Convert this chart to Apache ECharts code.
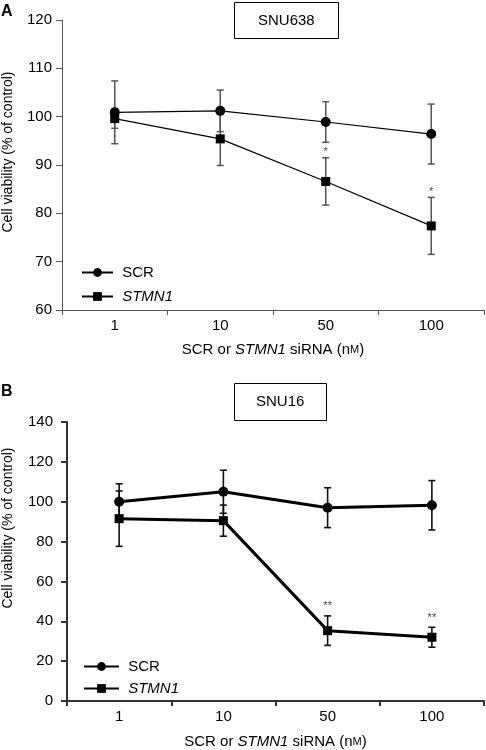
<!DOCTYPE html>
<html>
<head>
<meta charset="utf-8">
<script src="https://cdn.jsdelivr.net/npm/echarts@6/dist/echarts.min.js"></script>
<style>html,body{margin:0;padding:0;background:#fff}#c{width:486px;height:750px}</style>
</head>
<body>
<div id="c"></div>
<script>
// ---- data ----
var categories = ['1', '10', '50', '100'];
var yTicksA = [60, 70, 80, 90, 100, 110, 120];
var yTicksB = [0, 20, 40, 60, 80, 100, 120, 140];
// Panel A (SNU638)
var aSCR = [100.9, 101.2, 98.9, 96.4];
var aSCRerr = [6.5, 4.3, 4.2, 6.2];
var aSTMN1 = [99.6, 95.4, 86.6, 77.4];
var aSTMN1err = [2.0, 5.5, 4.9, 5.9];
var aSig = ['', '', '*', '*'];
// Panel B (SNU16)
var bSCR = [100, 105, 97, 98.2];
var bSCRerr = [9, 10.8, 10, 12.4];
var bSTMN1 = [91.5, 90.5, 35.3, 32];
var bSTMN1err = [13.9, 7.8, 7.4, 5];
var bSig = ['', '', '**', '**'];

var FONT = 'Liberation Sans, Arial, sans-serif';

function errData(vals, errs) {
  return vals.map(function (v, i) { return [i, v - errs[i], v + errs[i]]; });
}
function errSeries(vals, errs, axisIdx, color, width, cap) {
  return {
    type: 'custom', xAxisIndex: axisIdx, yAxisIndex: axisIdx, z: 1,
    data: errData(vals, errs), encode: { x: 0, y: [1, 2] }, silent: true,
    renderItem: function (params, api) {
      var lo = api.coord([api.value(0), api.value(1)]);
      var hi = api.coord([api.value(0), api.value(2)]);
      var x = lo[0];
      var st = { stroke: color, lineWidth: width };
      return { type: 'group', children: [
        { type: 'line', shape: { x1: x, y1: lo[1], x2: x, y2: hi[1] }, style: st },
        { type: 'line', shape: { x1: x - cap, y1: lo[1], x2: x + cap, y2: lo[1] }, style: st },
        { type: 'line', shape: { x1: x - cap, y1: hi[1], x2: x + cap, y2: hi[1] }, style: st }
      ]};
    }
  };
}
function sigSeries(vals, errs, sig, axisIdx, gap) {
  return {
    type: 'custom', xAxisIndex: axisIdx, yAxisIndex: axisIdx, z: 5, silent: true,
    data: vals.map(function (v, i) { return [i, v + errs[i]]; }), encode: { x: 0, y: 1 },
    renderItem: function (params, api) {
      var s = sig[params.dataIndex];
      if (!s) return null;
      var p = api.coord([api.value(0), api.value(1)]);
      return { type: 'text', x: p[0], y: p[1] - gap,
        style: { text: s, fill: '#444', font: '11px ' + FONT, textAlign: 'center', textVerticalAlign: 'bottom' } };
    }
  };
}
function lineSeries(name, vals, axisIdx, symbol, size, width) {
  return {
    type: 'line', name: name, xAxisIndex: axisIdx, yAxisIndex: axisIdx, z: 3,
    data: vals, symbol: symbol, symbolSize: size, showSymbol: true,
    lineStyle: { color: '#000', width: width }, itemStyle: { color: '#000' },
    emphasis: { disabled: true }, animation: false
  };
}

var nameRich = {
  a: { fontFamily: FONT, fontSize: 15, color: '#000' },
  i: { fontFamily: FONT, fontSize: 15, color: '#000', fontStyle: 'italic' },
  s: { fontFamily: FONT, fontSize: 11, color: '#000' }
};
var xName = '{a|SCR or }{i|STMN1}{a| siRNA (n}{s|M}{a|)}';

function xAxisCfg(idx, color, width, gap) {
  return {
    type: 'category', gridIndex: idx, data: categories, boundaryGap: true,
    axisLine: { lineStyle: { color: color, width: width } },
    axisTick: { show: true, interval: 0, length: 5, lineStyle: { color: color, width: width } },
    axisLabel: { interval: 0, margin: 8, fontSize: 15, fontFamily: FONT, color: '#000' },
    name: xName, nameLocation: 'middle', nameGap: gap, nameTextStyle: { rich: nameRich }
  };
}
function yAxisCfg(idx, ticks, interval, color, width, margin) {
  return {
    type: 'value', gridIndex: idx, min: ticks[0], max: ticks[ticks.length - 1], interval: interval,
    axisLine: { show: true, lineStyle: { color: color, width: width } },
    axisTick: { show: true, length: 6, lineStyle: { color: color, width: width } },
    axisLabel: { margin: margin, fontSize: 15, fontFamily: FONT, color: '#000' },
    splitLine: { show: false }
  };
}

function legendFmt(name) {
  return ' ' + name.replace(/ B$/, '');
}
function legendCfg(names, left, top, w, gap) {
  return {
    data: [ { name: names[0] }, { name: names[1], textStyle: { fontStyle: 'italic' } } ],
    orient: 'vertical', left: left, top: top, itemWidth: w, itemHeight: 11, itemGap: gap,
    formatter: legendFmt, selectedMode: false,
    textStyle: { fontFamily: FONT, fontSize: 15, color: '#000' }
  };
}

var option = {
  animation: false,
  backgroundColor: '#fff',
  title: [
    { text: 'SNU638', left: 234, top: 2, padding: [10, 24, 10, 24], borderColor: '#000', borderWidth: 1,
      textStyle: { fontFamily: FONT, fontSize: 15, fontWeight: 'normal', color: '#000', lineHeight: 17 } },
    { text: 'SNU16', left: 234, top: 383, padding: [10, 22, 10, 22], borderColor: '#000', borderWidth: 1,
      textStyle: { fontFamily: FONT, fontSize: 15, fontWeight: 'normal', color: '#000', lineHeight: 18 } },
    { text: 'A', left: 1, top: 4, padding: 0, textStyle: { fontFamily: FONT, fontSize: 16, fontWeight: 'bold', color: '#000' } },
    { text: 'B', left: 1, top: 384, padding: 0, textStyle: { fontFamily: FONT, fontSize: 16, fontWeight: 'bold', color: '#000' } }
  ],
  grid: [
    { left: 62, top: 20, width: 422, height: 290 },
    { left: 67, top: 422, width: 417, height: 281 }
  ],
  legend: [
    legendCfg(['SCR', 'STMN1'], 76, 260, 31, 9),
    legendCfg(['SCR B', 'STMN1 B'], 78, 654, 35, 7)
  ],
  xAxis: [ xAxisCfg(0, '#555', 1, 32), xAxisCfg(1, '#333', 2, 33) ],
  yAxis: [ yAxisCfg(0, yTicksA, 10, '#555', 1, 10), yAxisCfg(1, yTicksB, 20, '#333', 2, 14) ],
  graphic: [
    { type: 'text', x: 8, y: 152, rotation: Math.PI / 2,
      style: { text: 'Cell viability (% of control)', font: '14px ' + FONT, fill: '#000', textAlign: 'center', textVerticalAlign: 'middle' } },
    { type: 'text', x: 8, y: 528, rotation: Math.PI / 2,
      style: { text: 'Cell viability (% of control)', font: '14px ' + FONT, fill: '#000', textAlign: 'center', textVerticalAlign: 'middle' } }
  ],
  series: [
    errSeries(aSCR, aSCRerr, 0, '#555', 1.5, 3.5),
    errSeries(aSTMN1, aSTMN1err, 0, '#555', 1.5, 3.5),
    lineSeries('SCR', aSCR, 0, 'circle', 10, 1.2),
    lineSeries('STMN1', aSTMN1, 0, 'rect', 9, 1.2),
    sigSeries(aSTMN1, aSTMN1err, aSig, 0, 0),
    errSeries(bSCR, bSCRerr, 1, '#111', 1.6, 3.5),
    errSeries(bSTMN1, bSTMN1err, 1, '#111', 1.6, 3.5),
    lineSeries('SCR B', bSCR, 1, 'circle', 10, 3),
    lineSeries('STMN1 B', bSTMN1, 1, 'rect', 9, 3),
    sigSeries(bSTMN1, bSTMN1err, bSig, 1, 4)
  ]
};
var chart = echarts.init(document.getElementById('c'), null, { renderer: 'canvas' });
chart.setOption(option);
</script>
</body>
</html>
